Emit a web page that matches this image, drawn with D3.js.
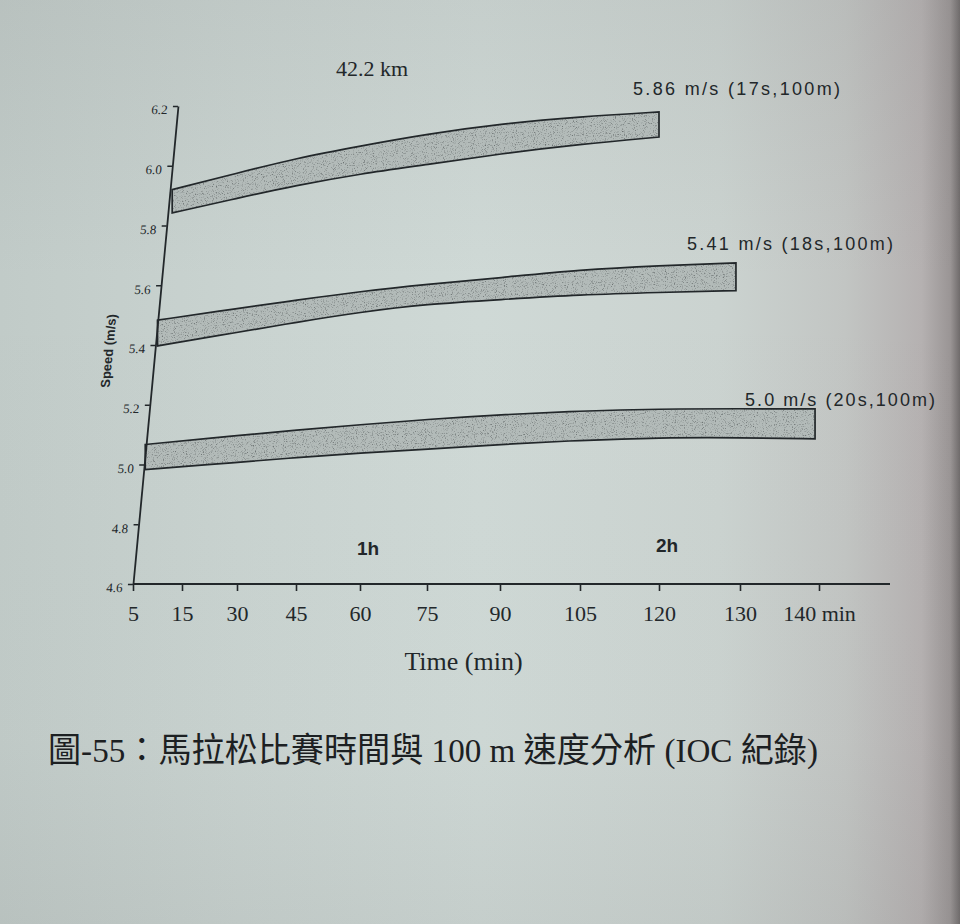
<!DOCTYPE html>
<html><head><meta charset="utf-8">
<script src="https://cdn.jsdelivr.net/npm/d3@7"></script>
<style>html,body{margin:0;padding:0;background:#c9d3d0;} svg{display:block}</style>
</head><body><div id="chart"></div>
<script>
// ---------- data ----------
const speedTicks = [4.6, 4.8, 5.0, 5.2, 5.4, 5.6, 5.8, 6.0, 6.2];
const timeTicks = [5, 15, 30, 45, 60, 75, 90, 105, 120, 130, 140];
const timeTickLabels = ["5", "15", "30", "45", "60", "75", "90", "105", "120", "130", "140 min"];
const hourMarks = [60, 120];
const hourLabels = ["1h", "2h"];
const bandNames = ["5.86 m/s (17s,100m)", "5.41 m/s (18s,100m)", "5.0 m/s (20s,100m)"];

const band17Time  = [13, 30, 45, 60, 75, 90, 105, 120];
const band17Upper = [5.92, 5.975, 6.025, 6.066, 6.106, 6.14, 6.164, 6.18];
const band17Lower = [5.842, 5.891, 5.934, 5.973, 6.004, 6.04, 6.072, 6.096];

const band18Time  = [10, 30, 45, 60, 75, 90, 105, 120, 129.5];
const band18Upper = [5.483, 5.522, 5.55, 5.579, 5.603, 5.625, 5.652, 5.666, 5.675];
const band18Lower = [5.397, 5.442, 5.476, 5.51, 5.537, 5.552, 5.568, 5.576, 5.582];

const band20Time  = [7.5, 30, 45, 60, 75, 90, 105, 120, 130, 139.5];
const band20Upper = [5.067, 5.097, 5.115, 5.133, 5.151, 5.167, 5.179, 5.186, 5.187, 5.186];
const band20Lower = [4.983, 5.007, 5.023, 5.039, 5.051, 5.067, 5.081, 5.09, 5.09, 5.086];

const distanceLabel = "42.2 km";
const xTitle = "Time (min)";
const yTitle = "Speed (m/s)";
const caption = "圖-55：馬拉松比賽時間與 100 m 速度分析 (IOC 紀錄)";

// ---------- layout ----------
const W = 960, H = 924;
const xTickPx = [133, 182, 237, 296, 360, 427, 500, 580, 659, 740, 819]; // perspective-like spacing
const yPx = [584, 106];
const axisSkewDeg = Math.atan(45 / 478) * 180 / Math.PI;
const labelPos = [[633, 95], [687, 250], [745, 406]];
const labelWidth = [207, 206, 190];
const ink = "#22272a";
const serif = "'Liberation Serif','Times New Roman',serif";
const sans = "'Liberation Sans',Arial,sans-serif";

const x = d3.scaleLinear().domain(timeTicks).range(xTickPx);
const y = d3.scaleLinear().domain([speedTicks[0], speedTicks[speedTicks.length - 1]]).range(yPx);

const svg = d3.select("#chart").append("svg").attr("width", W).attr("height", H);
const defs = svg.append("defs");

const bg = defs.append("linearGradient").attr("id", "bg").attr("x1", 0).attr("x2", 1).attr("y1", 0).attr("y2", 0);
[[0, "#c1cbc8"], [0.25, "#c9d3d0"], [0.5, "#cfd9d6"], [0.75, "#cbd3d0"], [0.88, "#c2c5c3"], [0.96, "#b5b1b1"], [0.99, "#9a9595"], [1, "#6f6b6b"]]
  .forEach(([o, c]) => bg.append("stop").attr("offset", o).attr("stop-color", c));
const bgv = defs.append("linearGradient").attr("id", "bgv").attr("x1", 0).attr("x2", 0).attr("y1", 0).attr("y2", 1);
[[0, "rgba(110,110,110,0.10)"], [0.3, "rgba(110,110,110,0)"], [0.8, "rgba(110,110,110,0.02)"], [1, "rgba(110,110,110,0.10)"]]
  .forEach(([o, c]) => bgv.append("stop").attr("offset", o).attr("stop-color", c));

const grain = defs.append("filter").attr("id", "grain").attr("x", 0).attr("y", 0).attr("width", "100%").attr("height", "100%");
grain.append("feTurbulence").attr("type", "fractalNoise").attr("baseFrequency", 0.9).attr("numOctaves", 2).attr("seed", 4).attr("result", "n");
grain.append("feColorMatrix").attr("in", "n").attr("type", "matrix")
  .attr("values", "0 0 0 0 0.15  0 0 0 0 0.17  0 0 0 0 0.17  3.0 0 0 0 -1.6").attr("result", "dots");
grain.append("feComposite").attr("in", "dots").attr("in2", "SourceGraphic").attr("operator", "in");

svg.append("rect").attr("width", W).attr("height", H).attr("fill", "url(#bg)");
svg.append("rect").attr("width", W).attr("height", H).attr("fill", "url(#bgv)");

// ---------- bands ----------
const bands = [
  {t: band17Time, hi: band17Upper, lo: band17Lower},
  {t: band18Time, hi: band18Upper, lo: band18Lower},
  {t: band20Time, hi: band20Upper, lo: band20Lower}
];
const area = d3.area()
  .x(d => x(d.t)).y0(d => y(d.lo)).y1(d => y(d.hi))
  .curve(d3.curveBasis);

bands.forEach((b, i) => {
  const pts = b.t.map((t, k) => ({t, hi: b.hi[k], lo: b.lo[k]}));
  const g = svg.append("g").attr("class", "band");
  g.append("path").attr("d", area(pts)).attr("fill", "#b3bbb9");
  g.append("path").attr("d", area(pts)).attr("fill", "#000").attr("filter", "url(#grain)");
  g.append("path").attr("d", area(pts)).attr("fill", "none").attr("stroke", ink).attr("stroke-width", 1.7)
    .attr("stroke-linejoin", "miter");
  svg.append("text").attr("x", labelPos[i][0]).attr("y", labelPos[i][1])
    .attr("font-family", sans).attr("font-size", 18).attr("fill", ink)
    .attr("textLength", labelWidth[i]).attr("lengthAdjust", "spacing")
    .text(bandNames[i]);
});

// ---------- x axis ----------
const y0 = y(speedTicks[0]);
const xAxis = svg.append("g").attr("transform", `translate(0,${y0})`)
  .call(d3.axisBottom(x).tickValues(timeTicks).tickFormat((d, i) => timeTickLabels[i])
    .tickSize(7).tickPadding(14));
xAxis.select(".domain").remove();
xAxis.selectAll(".tick line").attr("stroke", ink).attr("stroke-width", 1.6);
xAxis.selectAll(".tick text").attr("font-family", serif).attr("font-size", 22).attr("fill", ink);
svg.append("line").attr("x1", x(timeTicks[0])).attr("x2", x(timeTicks[timeTicks.length - 1]) + 71)
  .attr("y1", y0).attr("y2", y0).attr("stroke", ink).attr("stroke-width", 2);

svg.append("text").attr("x", (x(75) + x(90)) / 2).attr("y", 670)
  .attr("text-anchor", "middle").attr("font-family", serif).attr("font-size", 26).attr("fill", ink)
  .text(xTitle);

hourMarks.forEach((m, i) => {
  svg.append("text").attr("x", x(m) + 8).attr("y", i === 0 ? 555 : 552)
    .attr("text-anchor", "middle").attr("font-family", sans).attr("font-weight", "bold")
    .attr("font-size", 19).attr("fill", ink).text(hourLabels[i]);
});

// ---------- y axis (slanted as in the photographed page) ----------
const x0 = x(timeTicks[0]);
const yg = svg.append("g")
  .attr("transform", `translate(${x0},${y0}) skewX(${-axisSkewDeg}) translate(0,${-y0})`);
const yAxis = yg.append("g")
  .call(d3.axisLeft(y).tickValues(speedTicks).tickFormat(d3.format(".1f")).tickSize(5).tickPadding(5).tickSizeOuter(0));
yAxis.select(".domain").attr("stroke", ink).attr("stroke-width", 1.8);
yAxis.selectAll(".tick line").attr("stroke", ink).attr("stroke-width", 1.4);
yAxis.selectAll(".tick text").attr("font-family", serif).attr("font-size", 13).attr("fill", ink)
  .attr("dy", "0.6em");
yg.append("text").attr("transform", `translate(-42,${y(5.38)}) rotate(-90)`)
  .attr("text-anchor", "middle").attr("font-family", sans).attr("font-weight", "bold")
  .attr("font-size", 13).attr("fill", ink).text(yTitle);

// ---------- annotations ----------
svg.append("text").attr("x", 336).attr("y", 76).attr("font-family", serif).attr("font-size", 22)
  .attr("fill", ink).text(distanceLabel);

svg.append("text").attr("x", 48).attr("y", 762)
  .attr("font-family", "'Liberation Serif','Noto Sans CJK TC',serif").attr("font-size", 34)
  .attr("fill", "#1c2022").attr("textLength", 770).attr("lengthAdjust", "spacingAndGlyphs")
  .text(caption);
</script>
</body></html>
